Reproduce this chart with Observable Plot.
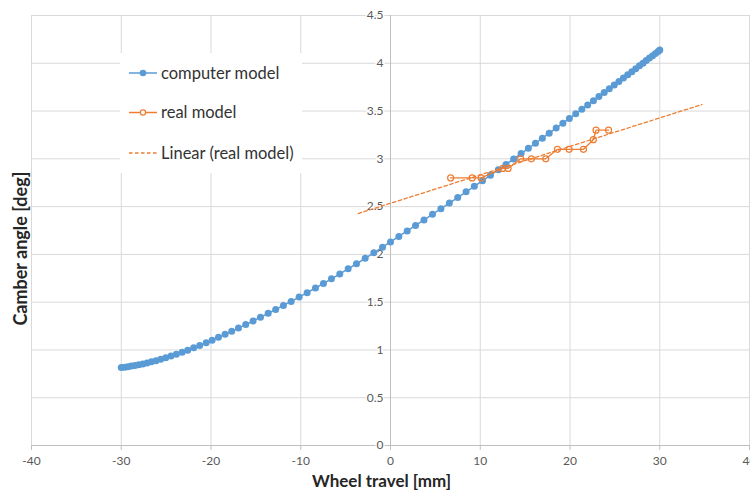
<!DOCTYPE html>
<html><head><meta charset="utf-8">
<script src="https://cdn.jsdelivr.net/npm/d3@7"></script>
<script src="https://cdn.jsdelivr.net/npm/@observablehq/plot@0.6"></script>
<style>body{margin:0;background:#fff} #chart{width:750px;height:495px}</style>
</head><body><div id="chart"></div>
<script>
const xTicks = [-40, -30, -20, -10, 0, 10, 20, 30, 40];
const yTicks = [0, 0.5, 1, 1.5, 2, 2.5, 3, 3.5, 4, 4.5];

const computerX = [-30.00, -29.61, -29.25, -28.87, -28.47, -28.05, -27.60, -27.13, -26.64, -26.13, -25.60, -25.04, -24.46, -23.86, -23.22, -22.60, -21.93, -21.26, -20.54, -19.88, -19.17, -18.43, -17.69, -16.94, -16.13, -15.31, -14.49, -13.63, -12.79, -11.93, -11.07, -10.18, -9.29, -8.36, -7.47, -6.58, -5.65, -4.72, -3.79, -2.82, -1.86, -0.89, 0.00, 0.93, 1.86, 2.79, 3.73, 4.68, 5.62, 6.56, 7.49, 8.42, 9.34, 10.25, 11.14, 12.01, 12.87, 13.72, 14.55, 15.36, 16.15, 16.92, 17.68, 18.46, 19.21, 19.93, 20.64, 21.32, 21.97, 22.61, 23.22, 23.81, 24.38, 24.93, 25.45, 25.95, 26.43, 26.89, 27.32, 27.74, 28.13, 28.49, 28.85, 29.20, 29.52, 29.81, 30.00];
const computerY = [0.815, 0.820, 0.825, 0.831, 0.838, 0.845, 0.854, 0.864, 0.876, 0.888, 0.903, 0.919, 0.937, 0.956, 0.977, 0.998, 1.022, 1.047, 1.076, 1.102, 1.132, 1.163, 1.195, 1.229, 1.265, 1.303, 1.342, 1.383, 1.423, 1.466, 1.508, 1.553, 1.599, 1.648, 1.696, 1.744, 1.796, 1.849, 1.902, 1.959, 2.016, 2.075, 2.130, 2.188, 2.245, 2.303, 2.361, 2.420, 2.478, 2.537, 2.595, 2.655, 2.713, 2.771, 2.828, 2.886, 2.942, 2.999, 3.055, 3.110, 3.163, 3.216, 3.268, 3.322, 3.373, 3.423, 3.472, 3.519, 3.564, 3.609, 3.652, 3.693, 3.734, 3.773, 3.809, 3.845, 3.879, 3.912, 3.943, 3.974, 4.001, 4.028, 4.054, 4.079, 4.102, 4.124, 4.138];

const realX = [6.7, 9.1, 10.1, 12.5, 13.1, 14.5, 15.7, 17.3, 18.6, 19.9, 21.5, 22.6, 22.9, 24.3];
const realY = [2.8, 2.8, 2.8, 2.9, 2.9, 3.0, 3.0, 3.0, 3.1, 3.1, 3.1, 3.2, 3.3, 3.3];

const trendX = [-3.6, 34.7];   // Excel trendline forecast extent
const legendLabels = ["computer model", "real model", "Linear (real model)"];
const xTitle = "Wheel travel [mm]";
const yTitle = "Camber angle [deg]";

const blue = "#5b9bd5", orange = "#ed7d31";

const computer = computerX.map((x, i) => ({x, y: computerY[i]}));
const real = realX.map((x, i) => ({x, y: realY[i]}));
// least-squares linear fit of real model
const mx = d3.mean(realX), my = d3.mean(realY);
const slope = d3.sum(realX, (x, i) => (x - mx) * (realY[i] - my)) / d3.sum(realX, x => (x - mx) ** 2);
const icpt = my - slope * mx;
const trend = trendX.map(x => ({x, y: icpt + slope * x}));

const chart = Plot.plot({
  width: 750, height: 495,
  marginLeft: 31, marginRight: 1, marginTop: 15, marginBottom: 50,
  style: {fontFamily: "Lato, 'Open Sans', sans-serif", background: "#fff"},
  x: {domain: [-40, 40], label: null},
  y: {domain: [0, 4.5], axis: null, label: null},
  marks: [
    Plot.gridX(xTicks, {stroke: "#d9d9d9", strokeOpacity: 1}),
    Plot.gridY(yTicks, {stroke: "#d9d9d9", strokeOpacity: 1}),
    Plot.ruleY([0], {stroke: "#bfbfbf"}),
    Plot.ruleX([0], {stroke: "#bfbfbf"}),
    Plot.axisX(xTicks, {tickSize: 5, tickPadding: 6, fontSize: 12, color: "#595959", stroke: "#bfbfbf", tickFormat: d => String(d), label: null}),
    Plot.text(yTicks, {x: 0, y: d => d, text: d => String(d), dx: -7, textAnchor: "end", fontSize: 12, fill: "#595959", stroke: "white", strokeWidth: 3, paintOrder: "stroke"}),
    Plot.line(computer, {x: "x", y: "y", stroke: blue, strokeWidth: 1.5}),
    Plot.dot(computer, {x: "x", y: "y", r: 3.5, fill: blue}),
    Plot.line(real, {x: "x", y: "y", stroke: orange, strokeWidth: 1.3}),
    Plot.dot(real, {x: "x", y: "y", r: 3, stroke: orange, strokeWidth: 1.2, fill: "none"}),
    Plot.line(trend, {x: "x", y: "y", stroke: orange, strokeWidth: 1.3, strokeDasharray: "3.5,2.5"}),
    Plot.text([xTitle], {frameAnchor: "bottom", dy: 41, dx: -9, fontSize: 17, fontWeight: "bold", fill: "#262626"}),
    Plot.text([yTitle], {y: () => 2.06, frameAnchor: "left", textAnchor: "middle", rotate: -90, dx: -10, fontSize: 18, fontWeight: "bold", fill: "#262626"})
  ]
});

// legend
const svg = d3.select(chart);
const lg = svg.append("g").attr("font-family", "Lato, 'Open Sans', sans-serif").attr("text-anchor", "start");
lg.append("rect").attr("x", 120).attr("y", 53).attr("width", 182).attr("height", 120).attr("fill", "#fff");
const rowsY = [73, 112.5, 153];
legendLabels.forEach((lab, i) => {
  const y = rowsY[i];
  const g = lg.append("g");
  if (i === 2) {
    g.append("line").attr("x1", 129).attr("x2", 157).attr("y1", y).attr("y2", y)
      .attr("stroke", orange).attr("stroke-width", 1.3).attr("stroke-dasharray", "3.5,2.5");
  } else {
    const c = i === 0 ? blue : orange;
    g.append("line").attr("x1", 129).attr("x2", 157).attr("y1", y).attr("y2", y)
      .attr("stroke", c).attr("stroke-width", 1.5);
    if (i === 0) g.append("circle").attr("cx", 143).attr("cy", y).attr("r", 3.3).attr("fill", blue);
    else g.append("circle").attr("cx", 143).attr("cy", y).attr("r", 2.6).attr("fill", "#fff").attr("stroke", orange).attr("stroke-width", 1.2);
  }
  g.append("text").attr("x", 161).attr("y", y).attr("dy", "0.35em").attr("text-anchor", "start")
    .attr("font-size", 16.5).attr("fill", "#333").text(lab);
});

document.getElementById("chart").appendChild(chart);
</script>
</body></html>
